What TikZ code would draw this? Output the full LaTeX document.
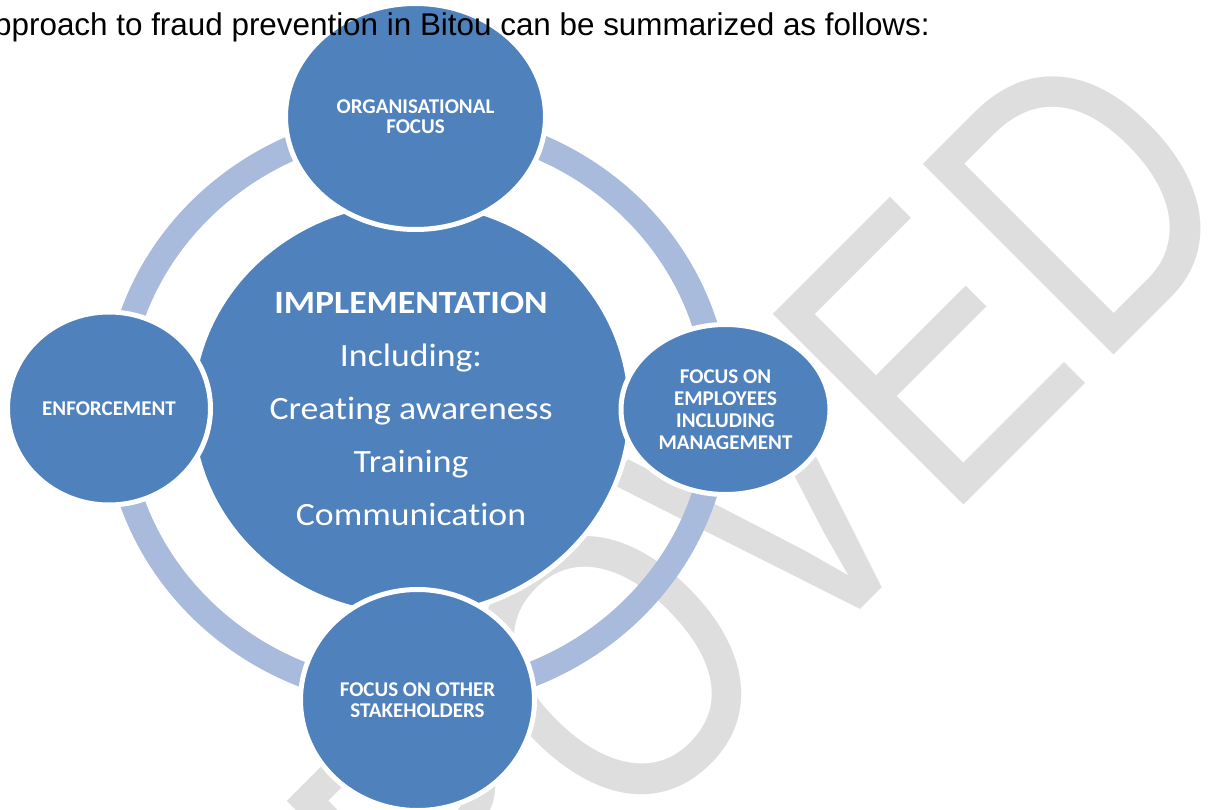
\documentclass[tikz,border=0pt]{standalone}
\usepackage{fontspec}
\usepackage{graphicx}
\setmainfont{Liberation Sans}
\newfontfamily\calib[Ligatures=NoCommon]{Carlito}
\usetikzlibrary{shapes.geometric}
\definecolor{circblue}{RGB}{79,129,189}
\definecolor{ringblue}{RGB}{168,187,220}
\definecolor{wmgray}{RGB}{222,222,222}
\tikzset{
  bubble/.style={ellipse, fill=circblue, draw=white, line width=5pt, inner sep=0pt, text=white, align=center},
  lbl/.style={font=\calib\bfseries\fontsize{21}{21}\selectfont},
  wmark/.style={font=\fontsize{392}{392}\selectfont, text=wmgray, rotate=45, anchor=base west, inner sep=0pt},
  titletext/.style={font=\fontsize{31.4}{31.4}\selectfont, text=black, anchor=base west, inner sep=0pt},
  ringline/.style={draw=ringblue, line width=25pt}
}
\begin{document}
\begin{tikzpicture}[x=1pt,y=-1pt]
\useasboundingbox (0,0) rectangle (1217,810);
\clip (0,0) rectangle (1217,810);
\fill[white] (0,0) rectangle (1217,810);
% watermark
\node[wmark] (wm) at (9.9,1459.5) {\scalebox{0.81}[1]{APPROVED}};
% ring
\draw[ringline] (417,409) ellipse [x radius=301pt, y radius=287pt];
% centre
\node[bubble, minimum width=439pt, minimum height=414pt, font=\calib\fontsize{32.5}{53}\selectfont] (impl) at (411,408.5)
 {\scalebox{1.1}[1]{\bfseries IMPLEMENTATION}\\\scalebox{1.1}[1]{Including:}\\\scalebox{1.1}[1]{Creating awareness}\\\scalebox{1.1}[1]{Training}\\\scalebox{1.1}[1]{Communication}};
% outer circles
\node[bubble, lbl, minimum width=260pt, minimum height=226pt, font=\calib\bfseries\fontsize{21}{19.7}\selectfont] (org) at (415.5,116.5) {ORGANISATIONAL\\FOCUS};
\node[bubble, lbl, minimum width=203pt, minimum height=193pt] (enf) at (109,408.5) {ENFORCEMENT};
\node[bubble, lbl, minimum width=209pt, minimum height=170pt, font=\calib\bfseries\fontsize{21}{21.8}\selectfont] (emp) at (725.5,409.5) {FOCUS ON\\EMPLOYEES\\INCLUDING\\MANAGEMENT};
\node[bubble, lbl, minimum width=234pt, minimum height=221pt, font=\calib\bfseries\fontsize{21}{21.3}\selectfont] (oth) at (417.5,700) {FOCUS ON OTHER\\STAKEHOLDERS};
% title
\node[titletext] (title) at (-6,36) {pproach to fraud prevention in Bitou can be summarized as follows:};
\end{tikzpicture}
\end{document}
